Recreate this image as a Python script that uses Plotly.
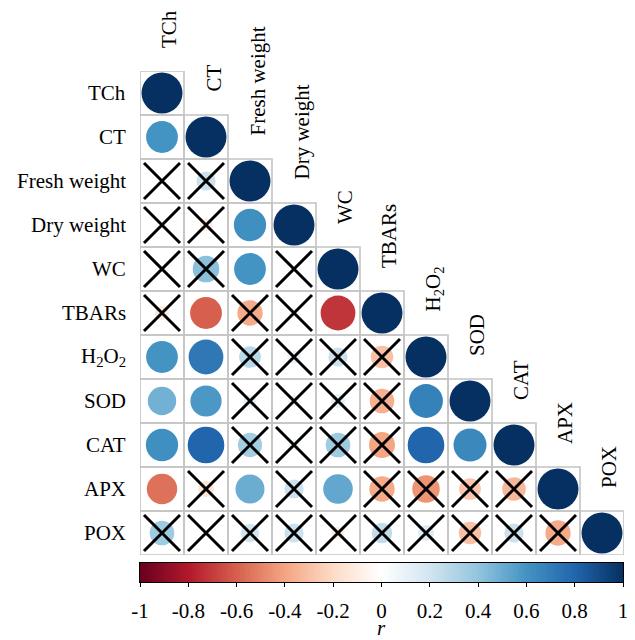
import numpy as np
import plotly.graph_objects as go

variables = ["TCh", "CT", "Fresh weight", "Dry weight", "WC", "TBARs",
             "H<sub>2</sub>O<sub>2</sub>", "SOD", "CAT", "APX", "POX"]

# lower-triangle correlation coefficients (row i, columns 0..i)
r_TCh = [1.0]
r_CT = [0.60, 1.0]
r_FW = [0.02, 0.22, 1.0]
r_DW = [-0.05, -0.10, 0.62, 1.0]
r_WC = [0.02, 0.42, 0.60, -0.02, 1.0]
r_TBARs = [-0.12, -0.60, -0.38, 0.06, -0.72, 1.0]
r_H2O2 = [0.60, 0.72, 0.28, 0.10, 0.22, -0.30, 1.0]
r_SOD = [0.48, 0.58, 0.10, 0.08, 0.12, -0.36, 0.68, 1.0]
r_CAT = [0.62, 0.80, 0.35, 0.08, 0.36, -0.40, 0.80, 0.65, 1.0]
r_APX = [-0.55, -0.15, 0.50, 0.22, 0.52, -0.38, -0.45, -0.28, -0.33, 1.0]
r_POX = [0.36, 0.02, 0.20, 0.22, -0.10, 0.25, 0.15, -0.30, 0.22, -0.38, 1.0]

# significance (1 = significant circle, 0 = crossed out)
s_TCh = [1]
s_CT = [1, 1]
s_FW = [0, 0, 1]
s_DW = [0, 0, 1, 1]
s_WC = [0, 0, 1, 0, 1]
s_TBARs = [0, 1, 0, 0, 1, 1]
s_H2O2 = [1, 1, 0, 0, 0, 0, 1]
s_SOD = [1, 1, 0, 0, 0, 0, 1, 1]
s_CAT = [1, 1, 0, 0, 0, 0, 1, 1, 1]
s_APX = [1, 0, 1, 0, 1, 0, 0, 0, 0, 1]
s_POX = [0, 0, 0, 0, 0, 0, 0, 0, 0, 0, 1]

r_rows = [r_TCh, r_CT, r_FW, r_DW, r_WC, r_TBARs, r_H2O2, r_SOD, r_CAT, r_APX, r_POX]
s_rows = [s_TCh, s_CT, s_FW, s_DW, s_WC, s_TBARs, s_H2O2, s_SOD, s_CAT, s_APX, s_POX]

tick_vals = [-1, -0.8, -0.6, -0.4, -0.2, 0, 0.2, 0.4, 0.6, 0.8, 1]
tick_text = ["-1", "-0.8", "-0.6", "-0.4", "-0.2", "0", "0.2", "0.4", "0.6", "0.8", "1"]

rdbu = ["#67001F", "#B2182B", "#D6604D", "#F4A582", "#FDDBC7", "#FFFFFF",
        "#D1E5F0", "#92C5DE", "#4393C3", "#2166AC", "#053061"]
colorscale = [[k / 10, c] for k, c in enumerate(rdbu)]

FONT = "Liberation Serif, Times New Roman, serif"
FS = 21
n = len(variables)

cx, cy, cr, xx, xy = [], [], [], [], []
for i, (rr, ss) in enumerate(zip(r_rows, s_rows)):
    for j, (v, s) in enumerate(zip(rr, ss)):
        cx.append(j + 1)
        cy.append(i + 1)
        cr.append(v)
        if not s:
            xx.append(j + 1)
            xy.append(i + 1)

cr = np.array(cr)
full = 41.0
sizes = full * np.sqrt(np.abs(cr))

fig = go.Figure()

# cell borders
for i in range(n):
    for j in range(i + 1):
        fig.add_shape(type="rect", xref="x", yref="y",
                      x0=j + 0.5, x1=j + 1.5, y0=i + 0.5, y1=i + 1.5,
                      line=dict(color="#C4C4C4", width=1.6), layer="below")

fig.add_trace(go.Scatter(
    x=cx, y=cy, mode="markers",
    marker=dict(size=sizes, color=cr, colorscale=colorscale, cmin=-1, cmax=1,
                line=dict(width=0), opacity=1, showscale=False),
    hoverinfo="skip", showlegend=False))

fig.add_trace(go.Scatter(
    x=xx, y=xy, mode="markers",
    marker=dict(symbol="x-thin-open", size=36, color="black",
                line=dict(color="black", width=3)),
    hoverinfo="skip", showlegend=False))

# colour bar drawn as a ramp on its own axes
edges = np.linspace(-1, 1, 401)
mids = (edges[:-1] + edges[1:]) / 2
fig.add_trace(go.Heatmap(
    x=edges, y=[0, 1], z=[mids], colorscale=colorscale, zmin=-1, zmax=1,
    showscale=False, hoverinfo="skip", xaxis="x2", yaxis="y2"))

annotations = []
for i, name in enumerate(variables):
    annotations.append(dict(x=0.5, y=i + 1, xref="x", yref="y", text=name,
                            showarrow=False, xanchor="right", yanchor="middle",
                            xshift=-12, font=dict(family=FONT, size=FS, color="black")))
    annotations.append(dict(x=i + 1, y=i + 0.5, xref="x", yref="y", text=name,
                            showarrow=False, textangle=-90, xanchor="center",
                            yanchor="bottom", xshift=7, yshift=21,
                            font=dict(family=FONT, size=FS, color="black")))
annotations.append(dict(x=0, y=0, xref="x2", yref="y2 domain", text="<i>r</i>",
                        showarrow=False, xanchor="center", yanchor="middle",
                        yshift=-46, font=dict(family=FONT, size=FS, color="black")))

# page body adds an 8px offset; build the figure so the screen positions match
OFF = 8
W = 635 - OFF
H = 640 - OFF
T = 71 - OFF
L = 140 - OFF
B = 0
ph = H - T - B
grid_bottom = 555 - OFF
cb_top = 563 - OFF
cb_bot = 582 - OFF
fig.update_layout(
    width=W, height=H,
    margin=dict(l=L, r=W - (624 - OFF), t=T, b=B, autoexpand=False),
    plot_bgcolor="white", paper_bgcolor="white",
    template="none",
    xaxis=dict(range=[0.5, n + 0.5], visible=False, fixedrange=True,
               domain=[0, 1], anchor="y"),
    yaxis=dict(range=[n + 0.5, 0.5], visible=False, fixedrange=True,
               domain=[(H - grid_bottom) / ph, 1], anchor="x"),
    xaxis2=dict(range=[-1, 1], domain=[0, 483 / 484], anchor="y2",
                showline=True, mirror=True, linecolor="black", linewidth=1,
                showgrid=False, zeroline=False, automargin=False,
                tickvals=tick_vals, ticktext=tick_text, ticks="outside",
                ticklen=4, tickcolor="black", tickwidth=1, ticklabelstandoff=6,
                tickfont=dict(family=FONT, size=FS, color="black"), fixedrange=True),
    yaxis2=dict(range=[0, 1], domain=[(H - cb_bot) / ph, (H - cb_top) / ph], anchor="x2",
                showline=True, mirror=True, linecolor="black", linewidth=1,
                showgrid=False, zeroline=False, showticklabels=False, ticks="",
                automargin=False, fixedrange=True),
    annotations=annotations,
)

fig.write_html("out.html")
